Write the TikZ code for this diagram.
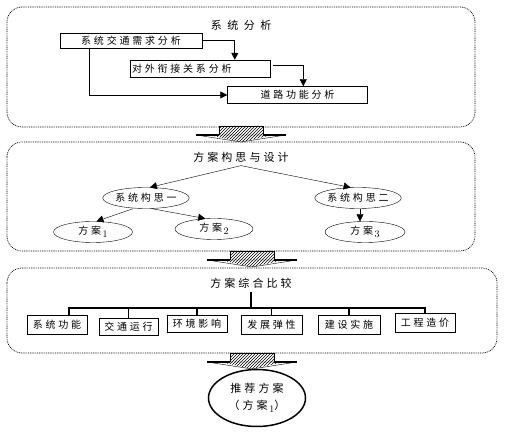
\documentclass[tikz,border=0pt]{standalone}
\usepackage{fontspec}
\newfontfamily\cjk[LetterSpace=28]{Noto Sans CJK SC}
\newfontfamily\cjkwide[LetterSpace=50]{Noto Sans CJK SC}
\usetikzlibrary{arrows.meta,patterns,shapes.geometric}
\newcommand{\subn}[1]{\,\raisebox{-3pt}{\normalfont\fontsize{10}{12}\selectfont #1}}

\begin{document}
\begin{tikzpicture}[x=1pt,y=-1pt,
  panel/.style={draw, line width=0.7pt, dash pattern=on 0.9pt off 0.9pt, rounded corners=15pt},
  box/.style={draw, rectangle, inner sep=1pt, font=\cjk\fontsize{10}{12}\selectfont},
  oval/.style={draw, ellipse, inner sep=0pt, minimum width=79, minimum height=21, font=\cjk\fontsize{10}{12}\selectfont},
  head/.style={font=\cjk\fontsize{11}{13}\selectfont},
  arr/.style={-{Triangle[width=7pt,length=7pt]}}]
\useasboundingbox (0,0) rectangle (512,435);
% panels
\draw[panel] (7,7) rectangle (475,127);
\draw[panel] (7,142) rectangle (475,251);
\draw[panel] (7,268) rectangle (497,353);
% system analysis
\node[head, font=\cjkwide\fontsize{11}{13}\selectfont] (xtfx) at (241,25) {系统分析};
\node[box, minimum width=142, minimum height=15] (xqfx) at (131,40.5) {系统交通需求分析};
\node[box, minimum width=140, minimum height=17, text width=136, align=left] (wjfx) at (200,68.5) {对外衔接关系分析};
\node[box, minimum width=140, minimum height=17] (gnfx) at (297.5,95) {道路功能分析};
\draw[arr, thick] (xqfx.east) -| ([xshift=105]wjfx.north west);
\draw[arr] ([shift={(3,-3)}]wjfx.east) -| ([xshift=76]gnfx.north west);
\draw[arr, thick] ([xshift=30]xqfx.south west) |- (gnfx.west);
% scheme design
\node[head] (gxsj) at (241,157) {方案构思与设计};
\node[oval, minimum width=78] (gs1) at (146,198) {系统构思一};
\node[oval, minimum width=80] (gs2) at (358,198) {系统构思二};
\node[oval] (fa1) at (93,232) {方案\subn{1}};
\node[oval, minimum width=78] (fa2) at (214,229) {方案\subn{2}};
\node[oval, minimum width=80] (fa3) at (365,232) {方案\subn{3}};
\draw[arr] (gxsj.south) -- (gs1.70);
\draw[arr] (gxsj.south) -- (gs2.125);
\draw[arr] ([xshift=-13]gs1.south) -- (fa1.72);
\draw[arr] ([xshift=6]gs1.south) -- (fa2.130);
\draw[arr] ([xshift=2]gs2.south) -- ([xshift=2]gs2.south |- fa3.north);
% comparison
\node[head] (zhbj) at (251,283) {方案综合比较};
\coordinate (bus) at (251,308);
\node[box, minimum width=60, minimum height=19] (b1) at (57,324.5) {系统功能};
\node[box, minimum width=59, minimum height=17] (b2) at (128.5,326.5) {交通运行};
\node[box, minimum width=60, minimum height=17] (b3) at (197,323.5) {环境影响};
\node[box, minimum width=61, minimum height=19] (b4) at (271.5,324.5) {发展弹性};
\node[box, minimum width=62, minimum height=19] (b5) at (349,324.5) {建设实施};
\node[box, minimum width=60, minimum height=19] (b6) at (425,322.5) {工程造价};
\draw[line width=1.8] (zhbj.south) -- (bus);
\draw[line width=1.8] ([xshift=12]b1.north) |- (b6.north |- bus) -- (b6.north);
\foreach \b in {b2,b3,b4,b5}
  \draw[line width=1.2] (\b.north |- bus) -- (\b.north);
% result
\node[oval, line width=1.5, minimum width=97, minimum height=57, align=center,
  font=\cjk\fontsize{11}{17}\selectfont] (tjfa) at (257,398) {推荐方案\\（方案\subn{1}）};
% block arrows between panels
\foreach \cx/\ty in {241/126,252/251,252/353}{
  \filldraw[fill=white] (\cx-22,\ty) rectangle (\cx+22,\ty+9);
  \filldraw[fill=white] (\cx-45,\ty+9) -- (\cx+45,\ty+9) -- (\cx,\ty+16) -- cycle;
  \fill[pattern=north east lines] (\cx-22,\ty) -- (\cx+22,\ty) -- (\cx+22,\ty+9) -- (\cx+32,\ty+9) -- (\cx,\ty+16) -- (\cx-32,\ty+9) -- (\cx-22,\ty+9) -- cycle;
  \draw[line width=2] (\cx-45,\ty+9) -- (\cx-22,\ty+9) (\cx+22,\ty+9) -- (\cx+45,\ty+9);
}
\end{tikzpicture}
\end{document}
